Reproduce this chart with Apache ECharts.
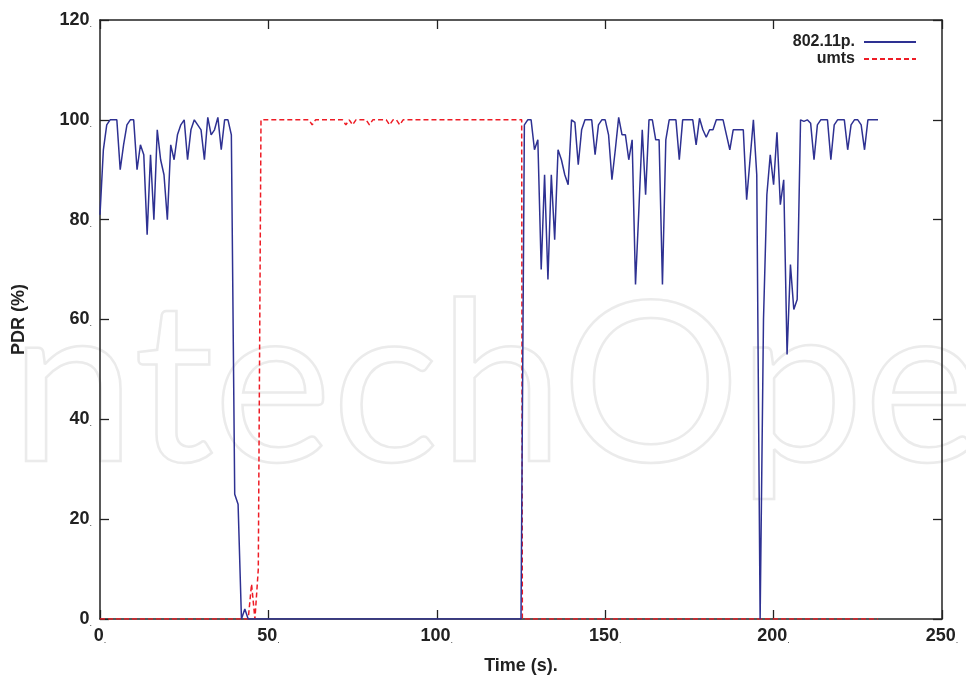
<!DOCTYPE html>
<html>
<head>
<meta charset="utf-8">
<script src="https://cdn.jsdelivr.net/npm/echarts@6/dist/echarts.min.js"></script>
<style>html,body{margin:0;padding:0;background:#fff}#c{width:966px;height:681px}</style>
</head>
<body>
<div id="c"></div>
<script>
// 802.11p PDR sampled every second, t = 0 .. 231
var p80211Values = [
  81, 94, 99, 100, 100, 100, 90, 95, 99, 100,
  100, 90, 95, 93, 77, 93, 80, 98, 92, 89,
  80, 95, 92, 97, 99, 100, 92, 98, 100, 99,
  98, 92, 100.5, 97, 98, 100.5, 94, 100, 100, 97,
  25, 23, 0, 2,
  0, 0, 0, 0, 0, 0, 0, 0, 0, 0,
  0, 0, 0, 0, 0, 0, 0, 0, 0, 0,
  0, 0, 0, 0, 0, 0, 0, 0, 0, 0,
  0, 0, 0, 0, 0, 0, 0, 0, 0, 0,
  0, 0, 0, 0, 0, 0, 0, 0, 0, 0,
  0, 0, 0, 0, 0, 0, 0, 0, 0, 0,
  0, 0, 0, 0, 0, 0, 0, 0, 0, 0,
  0, 0, 0, 0, 0, 0, 0, 0, 0, 0,
  0, 0,
  99, 100, 100, 94, 96, 70, 89, 68, 89, 76,
  94, 92, 89, 87, 100, 99.5, 91, 98, 100, 100,
  100, 93, 99, 100, 100, 97, 88, 94, 100.5, 97,
  97, 92, 96, 67, 82, 98, 85, 100, 100, 96,
  96, 67, 96, 100, 100, 100, 92, 100, 100, 100,
  100, 95, 100.3, 98, 96.5, 98, 98, 100, 100, 100,
  97, 94, 98, 98, 98, 98, 84, 92, 100, 89,
  0, 60, 85, 93, 87, 97.5, 83, 88, 53, 71,
  62, 64, 100, 99.7, 100, 99.3, 92, 99, 100, 100,
  100, 92, 99, 100, 100, 100, 94, 99, 100, 100,
  99, 94, 100, 100, 100, 100
];
// UMTS PDR key points (time s, value %)
var umtsTime  = [0, 44, 45, 46, 47, 47.8, 62, 63, 64, 72, 73, 74, 75, 76, 79, 80, 81, 85, 86, 87, 88, 89, 90, 125.2, 125.4, 231];
var umtsValue = [0, 0, 7, 0, 10, 100, 100, 99, 100, 100, 99, 100, 99, 100, 100, 99, 100, 100, 99, 100, 100, 99, 100, 100, 0, 0];

var xTicks = [0, 50, 100, 150, 200, 250];
var yTicks = [0, 20, 40, 60, 80, 100, 120];
var seriesNames = ['802.11p.', 'umts'];

var p80211Data = p80211Values.map(function (v, i) { return [i, v]; });
var umtsData = umtsTime.map(function (t, i) { return [t, umtsValue[i]]; });

var FONT = "'Liberation Sans Narrow', 'Liberation Sans', Arial, sans-serif";
var labelRich = {
  a: { fontFamily: FONT, fontSize: 18, fontWeight: 'bold', color: '#222' },
  d: { fontFamily: FONT, fontSize: 9, color: '#444', verticalAlign: 'bottom' }
};
function fmt(v) { return '{a|' + v + '}{d|.}'; }

var AX = '#222';
function mirrorAxisCommon() {
  return {
    axisLine: { show: true, onZero: false, lineStyle: { color: AX, width: 1.5 } },
    axisTick: { show: true, inside: true, length: 9, lineStyle: { color: AX, width: 1.3 } },
    axisLabel: { show: false },
    splitLine: { show: false }
  };
}

var chart = echarts.init(document.getElementById('c'), null, { renderer: 'canvas' });
chart.setOption({
  animation: false,
  backgroundColor: '#fff',
  graphic: [{
    type: 'text',
    z: -10,
    silent: true,
    left: -52,
    top: 276,
    style: {
      text: 'IntechOpen',
      font: '400 224px Lato, "Open Sans", sans-serif',
      fill: 'rgba(0,0,0,0)',
      stroke: '#ebebeb',
      lineWidth: 2.5
    }
  }],
  grid: { left: 100, right: 24, top: 20, bottom: 62, show: false },
  legend: {
    orient: 'vertical',
    right: 44,
    top: 29,
    align: 'right',
    itemWidth: 52,
    itemHeight: 12,
    itemGap: 1,
    data: seriesNames,
    itemStyle: { opacity: 0 },
    textStyle: { fontFamily: FONT, fontSize: 16, fontWeight: 'bold', color: '#222', padding: [0, 4, 0, 0], lineHeight: 16 }
  },
  xAxis: [Object.assign({
    type: 'value', min: xTicks[0], max: xTicks[xTicks.length - 1], interval: 50,
    name: 'Time (s).', nameLocation: 'middle', nameGap: 38,
    nameTextStyle: { fontFamily: FONT, fontSize: 18, fontWeight: 'bold', color: '#222' }
  }, mirrorAxisCommon(), { axisLabel: { margin: 8, formatter: fmt, rich: labelRich } }),
  Object.assign({
    type: 'value', position: 'top', min: xTicks[0], max: xTicks[xTicks.length - 1], interval: 50
  }, mirrorAxisCommon())],
  yAxis: [Object.assign({
    type: 'value', min: yTicks[0], max: yTicks[yTicks.length - 1], interval: 20,
    name: 'PDR (%)', nameLocation: 'middle', nameGap: 72, nameRotate: 90,
    nameTextStyle: { fontFamily: FONT, fontSize: 18, fontWeight: 'bold', color: '#222' }
  }, mirrorAxisCommon(), { axisLabel: { margin: 8, formatter: fmt, rich: labelRich } }),
  Object.assign({
    type: 'value', position: 'right', min: yTicks[0], max: yTicks[yTicks.length - 1], interval: 20
  }, mirrorAxisCommon())],
  series: [{
    name: seriesNames[0],
    type: 'line',
    data: p80211Data,
    showSymbol: false,
    symbol: 'none',
    z: 3,
    lineStyle: { color: '#2e3192', width: 1.5 },
    itemStyle: { color: '#2e3192' }
  }, {
    name: seriesNames[1],
    type: 'line',
    data: umtsData,
    showSymbol: false,
    symbol: 'none',
    z: 2,
    lineStyle: { color: '#ee1c25', width: 1.5, type: [5, 3] },
    itemStyle: { color: '#ee1c25' }
  }, {
    name: 'mirror',
    type: 'line',
    xAxisIndex: 1,
    yAxisIndex: 1,
    data: [],
    silent: true
  }]
});
</script>
</body>
</html>
